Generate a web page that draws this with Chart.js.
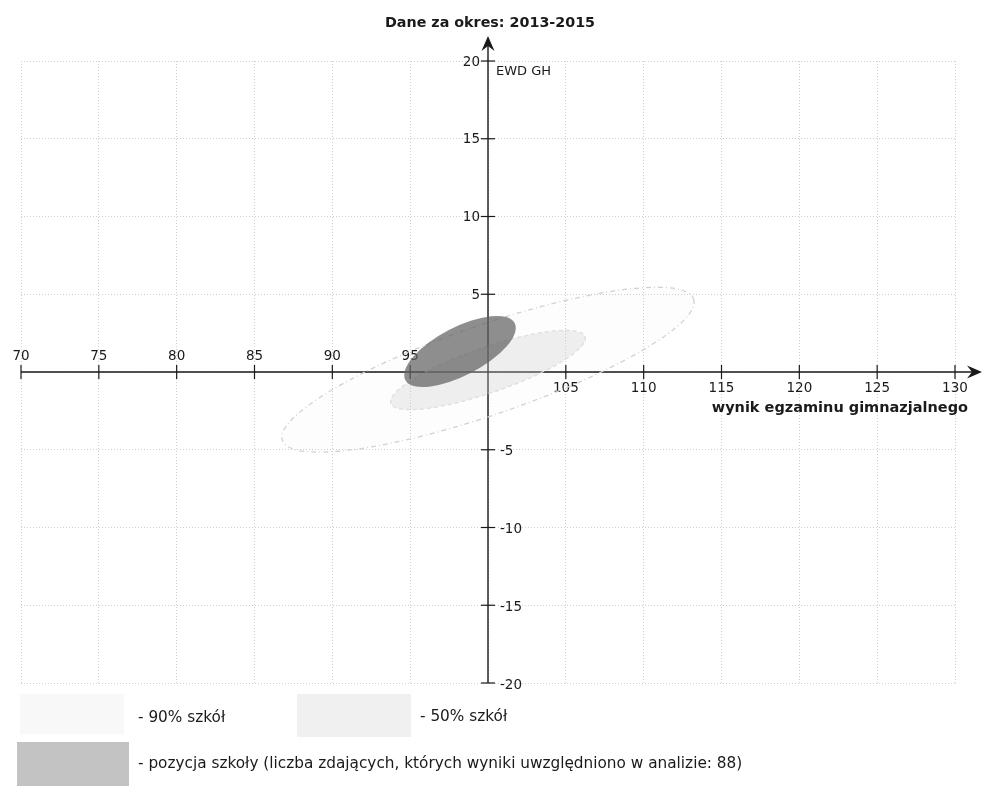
<!DOCTYPE html>
<html>
<head>
<meta charset="utf-8">
<script src="https://cdn.jsdelivr.net/npm/chart.js@4/dist/chart.umd.min.js"></script>
<style>
  html, body { margin: 0; padding: 0; background: #ffffff; }
  #wrap { width: 984px; height: 787px; }
</style>
</head>
<body>
<div id="wrap"><canvas id="c" width="984" height="787"></canvas></div>
<script>
// ---- data ----
const chartTitle = 'Dane za okres: 2013-2015';
const xAxisTitle = 'wynik egzaminu gimnazjalnego';
const yAxisTitle = 'EWD GH';
const xMin = 70, xMax = 130, xStep = 5;
const yMin = -20, yMax = 20, yStep = 5;
const xTickLabels = [70, 75, 80, 85, 90, 95, 100, 105, 110, 115, 120, 125, 130];
const yTickLabels = [-20, -15, -10, -5, 0, 5, 10, 15, 20];

// ellipses: 90% of schools, 50% of schools, this school's position
const ellipseNames = ['90% szkół', '50% szkół', 'pozycja szkoły'];
const centerX   = [100.0, 100.0, 98.2];
const centerY   = [0.15, 0.13, 1.32];
const semiMajor = [13.97, 6.6, 3.96];
const semiMinor = [2.88, 1.46, 1.55];
const angleDeg  = [19, 19, 27.5];

const legendTexts = [
  '- 90% szkół',
  '- 50% szkół',
  '- pozycja szkoły (liczba zdających, których wyniki uwzględniono w analizie: 88)'
];

// ---- styles ----
const FONT = '"DejaVu Sans", Verdana, sans-serif';
const ellipseStyle = [
  { fill: 'rgba(0,0,0,0.006)', stroke: '#d2d2d2', dash: [5, 3, 1, 3] },
  { fill: 'rgba(205,205,205,0.32)', stroke: '#dedede', dash: [4, 3] },
  { fill: 'rgba(98,98,98,0.72)', stroke: null, dash: [] }
];
const legendSwatch = [
  { fill: '#f8f8f8', x: 20, y: 694, w: 104, h: 40 },
  { fill: '#f0f0f0', x: 297, y: 694, w: 114, h: 43 },
  { fill: '#c3c3c3', x: 17, y: 742, w: 112, h: 44 }
];

const overlay = {
  id: 'overlay',
  afterDatasetsDraw(chart) {
    const ctx = chart.ctx;
    const xs = chart.scales.x, ys = chart.scales.y;
    const ox = xs.getPixelForValue(100), oy = ys.getPixelForValue(0);
    const left = xs.getPixelForValue(xMin), right = xs.getPixelForValue(xMax);
    const top = ys.getPixelForValue(yMax), bottom = ys.getPixelForValue(yMin);
    ctx.save();
    ctx.fillStyle = '#1a1a1a';
    ctx.strokeStyle = '#1a1a1a';
    ctx.lineWidth = 1.4;

    // axes lines
    ctx.beginPath();
    ctx.moveTo(left, oy); ctx.lineTo(right + 24, oy);
    ctx.moveTo(ox, bottom); ctx.lineTo(ox, top - 22);
    ctx.stroke();
    // arrowheads
    function arrow(tx, ty, dx, dy) {
      const len = 15, half = 6.5, notch = 5;
      const px = -dy, py = dx;
      ctx.beginPath();
      ctx.moveTo(tx, ty);
      ctx.lineTo(tx - dx * len + px * half, ty - dy * len + py * half);
      ctx.lineTo(tx - dx * (len - notch), ty - dy * (len - notch));
      ctx.lineTo(tx - dx * len - px * half, ty - dy * len - py * half);
      ctx.closePath();
      ctx.fill();
    }
    arrow(right + 27, oy, 1, 0);
    arrow(ox, top - 25, 0, -1);

    // ticks + labels
    ctx.lineWidth = 1.2;
    ctx.font = '13.5px ' + FONT;
    xTickLabels.forEach(v => {
      if (v === 100) return;
      const px = xs.getPixelForValue(v);
      ctx.beginPath(); ctx.moveTo(px, oy - 7); ctx.lineTo(px, oy + 7); ctx.stroke();
      ctx.textAlign = 'center';
      ctx.textBaseline = 'middle';
      if (v < 100) ctx.fillText(String(v), px, oy - 16);
      else ctx.fillText(String(v), px, oy + 16);
    });
    ctx.font = '13.5px ' + FONT;
    yTickLabels.forEach(v => {
      if (v === 0) return;
      const py = ys.getPixelForValue(v);
      ctx.beginPath(); ctx.moveTo(ox - 7, py); ctx.lineTo(ox + 7, py); ctx.stroke();
      ctx.textBaseline = 'middle';
      if (v > 0) { ctx.textAlign = 'right'; ctx.fillText(String(v), ox - 8, py + 1); }
      else { ctx.textAlign = 'left'; ctx.fillText(String(v), ox + 12, py + 2); }
    });

    // axis titles
    ctx.font = '13px ' + FONT;
    ctx.textAlign = 'left'; ctx.textBaseline = 'middle';
    ctx.fillText(yAxisTitle, ox + 8, top + 11);
    ctx.font = 'bold 14.5px ' + FONT;
    ctx.textAlign = 'right';
    ctx.fillText(xAxisTitle, right + 13, oy + 36);

    // title
    ctx.font = 'bold 14.3px ' + FONT;
    ctx.textAlign = 'center';
    ctx.fillText(chartTitle, ox + 2, 23);

    // ellipses, converted through the scales
    for (let i = 0; i < centerX.length; i++) {
      const t = angleDeg[i] * Math.PI / 180;
      const c = { x: xs.getPixelForValue(centerX[i]), y: ys.getPixelForValue(centerY[i]) };
      const pa = { x: xs.getPixelForValue(centerX[i] + semiMajor[i] * Math.cos(t)),
                   y: ys.getPixelForValue(centerY[i] + semiMajor[i] * Math.sin(t)) };
      const pb = { x: xs.getPixelForValue(centerX[i] - semiMinor[i] * Math.sin(t)),
                   y: ys.getPixelForValue(centerY[i] + semiMinor[i] * Math.cos(t)) };
      const ra = Math.hypot(pa.x - c.x, pa.y - c.y);
      const rb = Math.hypot(pb.x - c.x, pb.y - c.y);
      const rot = Math.atan2(pa.y - c.y, pa.x - c.x);
      const st = ellipseStyle[i];
      ctx.beginPath();
      ctx.ellipse(c.x, c.y, ra, rb, rot, 0, Math.PI * 2);
      ctx.fillStyle = st.fill;
      ctx.fill();
      if (st.stroke) {
        ctx.setLineDash(st.dash);
        ctx.strokeStyle = st.stroke;
        ctx.lineWidth = 1.3;
        ctx.stroke();
        ctx.setLineDash([]);
      }
    }

    // legend
    legendSwatch.forEach(s => {
      ctx.fillStyle = s.fill;
      ctx.fillRect(s.x, s.y, s.w, s.h);
    });
    ctx.font = '15.3px ' + FONT;
    ctx.textAlign = 'left'; ctx.textBaseline = 'middle';
    ctx.fillStyle = '#1a1a1a';
    ctx.fillText(legendTexts[0], 138, 718);
    ctx.fillText(legendTexts[1], 420, 717);
    ctx.fillText(legendTexts[2], 138, 764);
    ctx.restore();
  }
};

new Chart(document.getElementById('c'), {
  type: 'scatter',
  data: {
    datasets: ellipseNames.map((n, i) => ({
      label: n,
      data: [{ x: centerX[i], y: centerY[i] }],
      pointRadius: 0,
      pointHoverRadius: 0
    }))
  },
  options: {
    responsive: false,
    animation: false,
    events: [],
    layout: { padding: { left: 21, right: 29, top: 61, bottom: 104 } },
    plugins: { legend: { display: false }, title: { display: false }, tooltip: { enabled: false } },
    scales: {
      x: {
        type: 'linear', min: xMin, max: xMax,
        ticks: { display: false, stepSize: xStep },
        grid: { color: '#cfcfcf', lineWidth: 1, drawTicks: false },
        border: { display: false, dash: [1, 2] }
      },
      y: {
        type: 'linear', min: yMin, max: yMax,
        ticks: { display: false, stepSize: yStep },
        grid: { color: '#cfcfcf', lineWidth: 1, drawTicks: false },
        border: { display: false, dash: [1, 2] }
      }
    }
  },
  plugins: [overlay]
});
</script>
</body>
</html>
